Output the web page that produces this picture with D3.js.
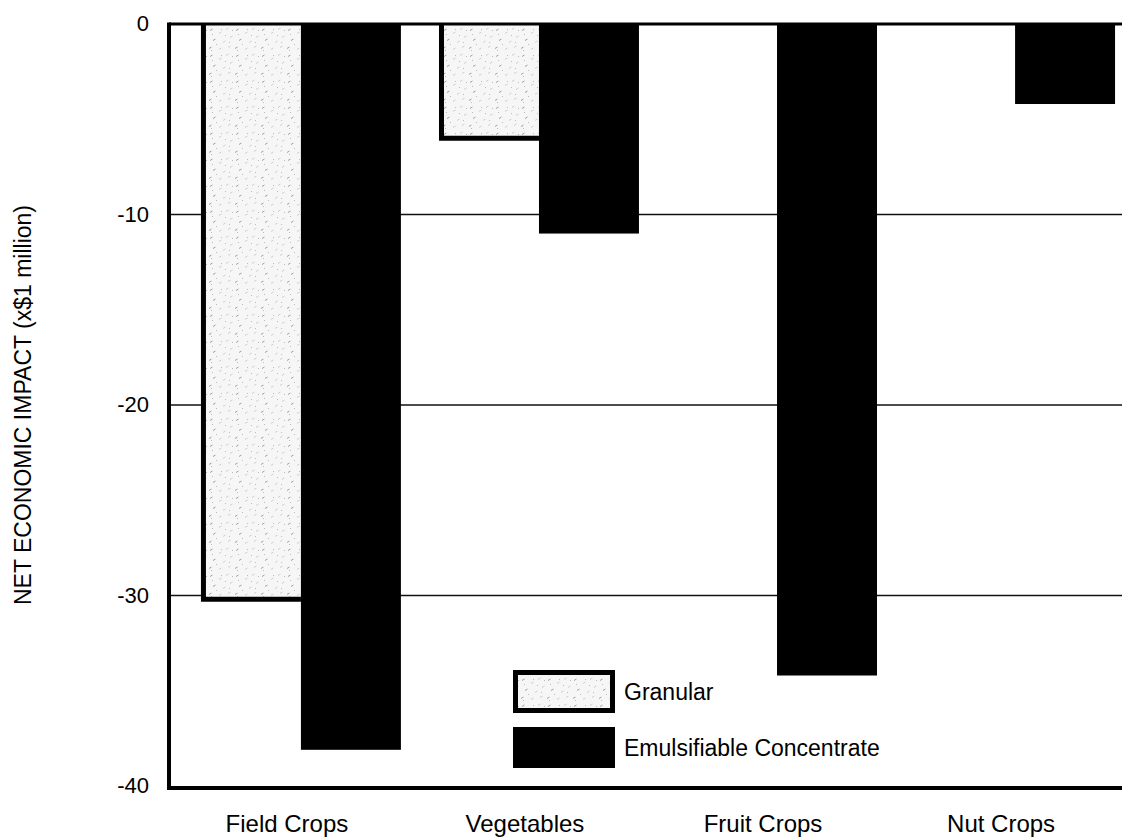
<!DOCTYPE html>
<html>
<head>
<meta charset="utf-8">
<script src="https://cdn.jsdelivr.net/npm/d3@7"></script>
<style>
  html, body { margin: 0; padding: 0; background: #fff; }
  svg { display: block; }
  text { font-family: "Liberation Sans", Arial, sans-serif; fill: #000; }
</style>
</head>
<body>
<svg id="chart" width="1122" height="837"></svg>
<script>
// ---- data ----
const categories = ["Field Crops", "Vegetables", "Fruit Crops", "Nut Crops"];
const seriesNames = ["Granular", "Emulsifiable Concentrate"];
const granularValues = [-30.2, -6.0, 0, 0];
const emulsifiableValues = [-38.1, -11.0, -34.2, -4.2];
const yTickValues = [0, -10, -20, -30, -40];
const yTickLabels = ["0", "-10", "-20", "-30", "-40"];
const gridValues = [-10, -20, -30];
const yAxisTitle = "NET ECONOMIC IMPACT (x$1 million)";

// ---- layout ----
const plotLeft = 169, plotRight = 1122, plotTop = 24, plotBottom = 786;

const svg = d3.select("#chart");

// speckle pattern for granular
const defs = svg.append("defs");
const pat = defs.append("pattern").attr("id", "speckle")
  .attr("width", 26).attr("height", 26).attr("patternUnits", "userSpaceOnUse");
pat.append("rect").attr("width", 26).attr("height", 26).attr("fill", "#f6f6f6");
const specks = [[2,3],[11,6],[18,2],[5,13],[15,15],[22,10],[1,21],[11,22],[20,20]];
specks.forEach(([sx, sy], i) => {
  pat.append("line").attr("x1", sx).attr("y1", sy + 1.5).attr("x2", sx + 2.5).attr("y2", sy)
    .attr("stroke", i % 3 === 0 ? "#8a8a8a" : "#c4c4c4").attr("stroke-width", 0.8);
});
[[4,8],[13,3],[21,16],[8,18],[17,9],[3,24],[24,4]].forEach(([sx, sy]) => {
  pat.append("rect").attr("x", sx).attr("y", sy).attr("width", 1).attr("height", 1).attr("fill", "#bbb");
});

// scales
const y = d3.scaleLinear().domain([0, -40]).range([plotTop, plotBottom]);
const x0 = d3.scaleBand().domain(categories).range([170, 1146]).paddingInner(0.16).paddingOuter(0.13);
const x1 = d3.scaleBand().domain(seriesNames).range([0, x0.bandwidth()]).padding(0);

// gridlines
svg.append("g").selectAll("line").data(gridValues).join("line")
  .attr("x1", plotLeft).attr("x2", plotRight)
  .attr("y1", d => y(d)).attr("y2", d => y(d))
  .attr("stroke", "#111").attr("stroke-width", 1.6);

// granular bars
const gData = categories.map((c, i) => ({ c, v: granularValues[i] })).filter(d => d.v !== 0);
svg.append("g").selectAll("rect").data(gData).join("rect")
  .attr("x", d => x0(d.c) + x1("Granular"))
  .attr("y", y(0))
  .attr("width", x1.bandwidth())
  .attr("height", d => y(d.v) - y(0))
  .attr("fill", "url(#speckle)");
svg.append("g").selectAll("path").data(gData).join("path")
  .attr("d", d => {
    const xl = x0(d.c) + x1("Granular") + 2.5;
    const xr = x0(d.c) + x1("Granular") + x1.bandwidth();
    return `M${xl},${y(0)} V${y(d.v)} H${xr}`;
  })
  .attr("fill", "none").attr("stroke", "#000").attr("stroke-width", 5);

// emulsifiable concentrate bars
svg.append("g").selectAll("rect")
  .data(categories.map((c, i) => ({ c, v: emulsifiableValues[i] })).filter(d => d.v !== 0))
  .join("rect")
  .attr("x", d => x0(d.c) + x1("Emulsifiable Concentrate"))
  .attr("y", y(0))
  .attr("width", x1.bandwidth())
  .attr("height", d => y(d.v) - y(0))
  .attr("fill", "#000");

// frame lines
svg.append("line").attr("x1", plotLeft).attr("x2", plotRight)
  .attr("y1", y(0)).attr("y2", y(0)).attr("stroke", "#000").attr("stroke-width", 3);
svg.append("line").attr("x1", plotLeft - 2).attr("x2", plotRight)
  .attr("y1", y(-40) + 2).attr("y2", y(-40) + 2).attr("stroke", "#000").attr("stroke-width", 4);
svg.append("line").attr("x1", plotLeft).attr("x2", plotLeft)
  .attr("y1", y(0) - 1.5).attr("y2", y(-40) + 4).attr("stroke", "#000").attr("stroke-width", 4);

// y axis ticks
const yAxis = d3.axisLeft(y).tickValues(yTickValues).tickSize(0).tickPadding(20)
  .tickFormat((d, i) => yTickLabels[i]);
const yg = svg.append("g").attr("transform", `translate(${plotLeft},0)`).call(yAxis);
yg.select(".domain").remove();
yg.selectAll("text").attr("font-size", 22).attr("font-family", '"Liberation Sans", Arial, sans-serif')
  .attr("fill", "#000").attr("dy", "0.3em");

// category labels
svg.append("g").selectAll("text").data(categories).join("text")
  .attr("x", d => x0(d) + x0.bandwidth() / 2 - 14)
  .attr("y", 832)
  .attr("text-anchor", "middle")
  .attr("font-size", 24)
  .text(d => d);

// y axis title
svg.append("text")
  .attr("transform", `translate(31,${(plotTop + plotBottom) / 2}) rotate(-90)`)
  .attr("text-anchor", "middle")
  .attr("font-size", 23)
  .text(yAxisTitle);

// legend
const legend = svg.append("g");
legend.append("rect").attr("x", 515.5).attr("y", 672.5).attr("width", 97).attr("height", 38)
  .attr("fill", "url(#speckle)").attr("stroke", "#000").attr("stroke-width", 5);
legend.append("rect").attr("x", 513).attr("y", 727).attr("width", 102).attr("height", 41).attr("fill", "#000");
legend.selectAll("text.lg").data(seriesNames).join("text")
  .attr("class", "lg")
  .attr("x", 624)
  .attr("y", (d, i) => i === 0 ? 692 : 748)
  .attr("dy", "0.35em")
  .attr("font-size", 23)
  .text(d => d);
</script>
</body>
</html>
